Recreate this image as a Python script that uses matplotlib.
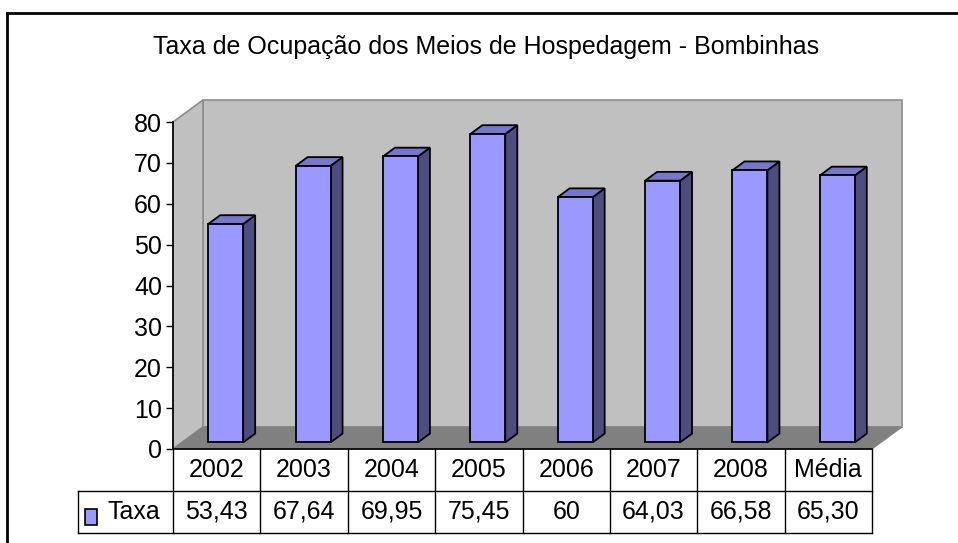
import matplotlib
matplotlib.use("Agg")
import matplotlib.pyplot as plt
from matplotlib.patches import Polygon, Rectangle
from matplotlib.lines import Line2D

plt.rcParams['font.family'] = ['Liberation Sans', 'DejaVu Sans']

# ---- data ----
categories = ["2002", "2003", "2004", "2005", "2006", "2007", "2008", "Média"]
values = [53.43, 67.64, 69.95, 75.45, 60, 64.03, 66.58, 65.30]
value_labels = ["53,43", "67,64", "69,95", "75,45", "60", "64,03", "66,58", "65,30"]
series_name = "Taxa"
title = "Taxa de Ocupação dos Meios de Hospedagem - Bombinhas"
yticks = [0, 10, 20, 30, 40, 50, 60, 70, 80]

# ---- layout (pixels) ----
W, H = 958, 543
FX0, FX1, FYT, FYB = 173, 872, 122, 449
DEPTH_PX = (30, 22)
FS = 18

fig = plt.figure(figsize=(W / 100, H / 100), dpi=100)
fig.patch.set_facecolor("white")

ax = fig.add_axes([FX0 / W, (H - FYB) / H, (FX1 - FX0) / W, (FYB - FYT) / H])
n = len(categories)
ax.set_xlim(0, n)
ax.set_ylim(0, 80)
ax.set_facecolor("none")
for s in ["top", "right", "bottom"]:
    ax.spines[s].set_visible(False)
ax.spines["left"].set_color("black")
ax.spines["left"].set_linewidth(1.2)
ax.spines["left"].set_zorder(6)
ax.set_xticks([])
ax.set_yticks(yticks)
ax.tick_params(axis="y", direction="out", length=5, width=1, pad=3, labelsize=FS, colors="black")

ddx = DEPTH_PX[0] / (FX1 - FX0) * n
ddy = DEPTH_PX[1] / (FYB - FYT) * 80

wall = "#c0c0c0"
edge = "#8c8c8c"
back = Polygon([(ddx, ddy), (n + ddx, ddy), (n + ddx, 80 + ddy), (ddx, 80 + ddy)],
               closed=True, facecolor=wall, edgecolor=edge, lw=1.2, clip_on=False, zorder=1)
side = Polygon([(0, 0), (ddx, ddy), (ddx, 80 + ddy), (0, 80)],
               closed=True, facecolor=wall, edgecolor=edge, lw=1.2, clip_on=False, zorder=1)
floor = Polygon([(0, 0), (n, 0), (n + ddx, ddy), (ddx, ddy)],
                closed=True, facecolor="#808080", edgecolor="#808080", lw=0.8, clip_on=False, zorder=2)
for p in (back, side, floor):
    ax.add_patch(p)

# bars
bw = 0.40
bfrac = 0.40
off = (1 - bfrac) / 2
bdx, bdy = bfrac * ddx, bfrac * ddy
for i, v in enumerate(values):
    L = i + 0.5 + off * ddx - bw / 2
    B = off * ddy
    R = L + bw
    T = B + v
    front = Polygon([(L, B), (R, B), (R, T), (L, T)], closed=True,
                    facecolor="#9999ff", edgecolor="black", lw=1.3, clip_on=False, zorder=4)
    sidef = Polygon([(R, B), (R + bdx, B + bdy), (R + bdx, T + bdy), (R, T)], closed=True,
                    facecolor="#4d4d80", edgecolor="black", lw=1.3, clip_on=False, zorder=3)
    top = Polygon([(L, T), (R, T), (R + bdx, T + bdy), (L + bdx, T + bdy)], closed=True,
                  facecolor="#7777cc", edgecolor="black", lw=1.3, clip_on=False, zorder=3)
    for p in (sidef, top, front):
        ax.add_patch(p)

# ---- data table ----
TB = 533
tax = fig.add_axes([FX0 / W, (H - TB) / H, (FX1 - FX0) / W, (TB - FYB) / H])
tax.set_xlim(0, n)
tax.set_ylim(0, 2)
tax.axis("off")
legx = (78 - FX0) / ((FX1 - FX0) / n)
lc = "black"
tax.add_line(Line2D([0, n], [2, 2], color=lc, lw=1.2, clip_on=False))
tax.add_line(Line2D([legx, n], [1, 1], color=lc, lw=1, clip_on=False))
tax.add_line(Line2D([legx, n], [0, 0], color=lc, lw=1, clip_on=False))
tax.add_line(Line2D([legx, legx], [0, 1], color=lc, lw=1, clip_on=False))
for k in range(n + 1):
    tax.add_line(Line2D([k, k], [0, 2], color=lc, lw=1, clip_on=False))
for i, (c, vl) in enumerate(zip(categories, value_labels)):
    tax.text(i + 0.5, 1.5, c, ha="center", va="center", fontsize=FS)
    tax.text(i + 0.5, 0.5, vl, ha="center", va="center", fontsize=FS)
cw = (FX1 - FX0) / n
tax.add_patch(Rectangle(((85 - FX0) / cw, 0.2), 12 / cw, 0.38, facecolor="#9999ff",
                        edgecolor="black", lw=1.2, clip_on=False))
tax.text((108 - FX0) / cw, 0.5, series_name, ha="left", va="center", fontsize=FS)

# title
fig.text(486 / W, 1 - 47 / H, title, ha="center", va="center", fontsize=FS)

# chart border (top and left visible)
fig.add_artist(Line2D([7 / W, 1], [1 - 13 / H, 1 - 13 / H], color="black", lw=2, transform=fig.transFigure))
fig.add_artist(Line2D([7 / W, 7 / W], [0, 1 - 13 / H], color="black", lw=2, transform=fig.transFigure))

fig.savefig("out.png", dpi=100, facecolor="white")
